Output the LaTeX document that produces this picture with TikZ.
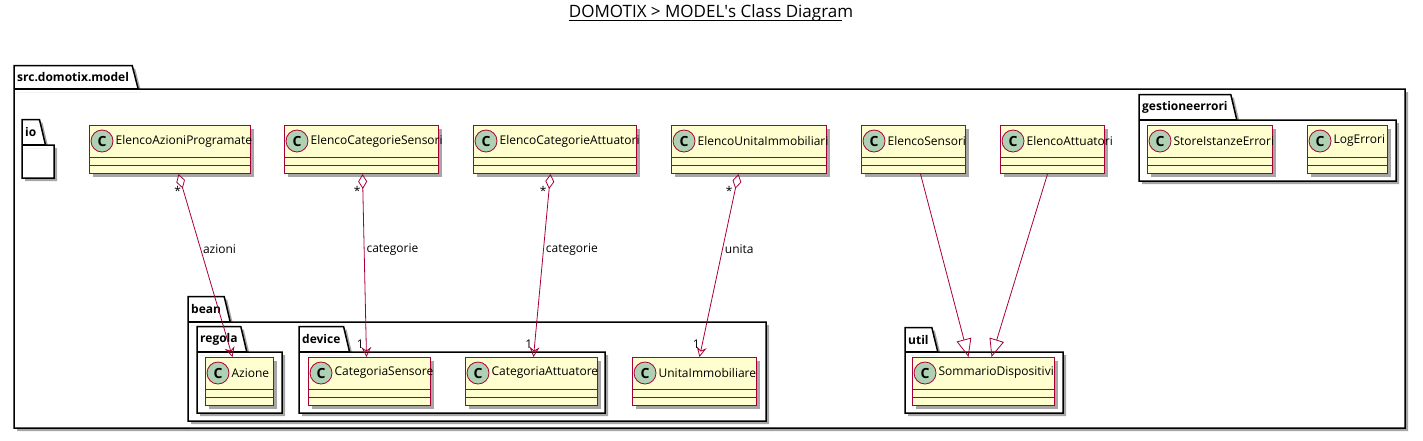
\documentclass[tikz,border=0pt]{standalone}
\usepackage{fontspec}
\setmainfont{Open Sans}
\usepackage{tikz}
\usetikzlibrary{arrows.meta}
\usetikzlibrary{shadows}
\usetikzlibrary{backgrounds}
\usetikzlibrary{positioning}

\definecolor{umlred}{HTML}{A80036}
\definecolor{umlyellow}{HTML}{FEFECE}
\definecolor{umlgreen}{HTML}{ADD1B2}

% #1 name, #2 left, #3 top, #4 right, #5 label
\newcommand{\umlclass}[5]{%
    \node[classbox, minimum width={(#4-#2)*1pt}, anchor=north west] (#1) at (#2,#3) {};
    \draw[classline] ([yshift=-32pt]#1.north west) -- ([yshift=-32pt]#1.north east);
    \draw[classline] ([yshift=-40pt]#1.north west) -- ([yshift=-40pt]#1.north east);
    \node[classicon] (#1-c) at ([xshift=13pt,yshift=-16pt]#1.north west) {C};
    \node[classname, right=2pt of #1-c] (#1-t) {#5};
}
% #1 name, #2 label, #3 left, #4 tab top, #5 body top, #6 right, #7 bottom
\newcommand{\umlpkg}[7]{%
    \node[pkglabel, minimum height={(#5-#4)*1pt}, anchor=south west] (#1) at (#3,#5) {#2};
    \begin{scope}[on background layer]
        \draw[pkgbox] (#3,#7) -- (#1.north west) -- (#1.north east) -- ([xshift=6pt]#1.south east) -- (#6,#5) -- (#6,#7) -- cycle;
        \draw[pkgbox] (#1.south west) -- ([xshift=6pt]#1.south east);
    \end{scope}
}

\begin{document}
\begin{tikzpicture}[x=1pt, y=-1pt,
    classbox/.style={draw=umlred, fill=umlyellow, line width=1pt, minimum height=48pt, inner sep=0pt,
        drop shadow={shadow xshift=3pt, shadow yshift=-3pt, opacity=0.35, fill=black}},
    classline/.style={draw=umlred, line width=1pt},
    classicon/.style={circle, draw=umlred, fill=umlgreen, line width=0.8pt, minimum size=22pt, inner sep=0pt,
        font=\fontsize{14}{14}\selectfont\bfseries},
    classname/.style={inner sep=0pt, font=\fontsize{12}{14}\selectfont},
    pkglabel/.style={inner xsep=3pt, inner ysep=0pt, font=\fontsize{12}{14}\selectfont\bfseries},
    pkgbox/.style={draw=black, fill=white, line width=1.5pt,
        drop shadow={shadow xshift=3pt, shadow yshift=-3pt, opacity=0.35, fill=black}},
    edgelabel/.style={inner sep=2pt, font=\fontsize{12}{14}\selectfont},
    aggr/.style={draw=umlred, line width=0.8pt,
        {Diamond[open, length=15pt, width=9pt]}-{Stealth[open, length=10pt, width=10pt, inset=3.5pt]}},
    extends/.style={draw=umlred, line width=0.8pt, -{Triangle[open, length=18pt, width=15pt]}},
    title/.style={inner sep=0pt, font=\fontsize{17}{20}\selectfont}]

    \useasboundingbox (0,0) rectangle (1423,440);

    \node[title] (title) at (711,13) {DOMOTIX > MODEL\textquotesingle s Class Diagram};
    \draw[line width=0.8pt] ([yshift=-2.5pt]title.base west) -- ([xshift=-11pt,yshift=-2.5pt]title.base east);

    \umlpkg{model}{src.domotix.model}{14}{66}{89}{1405}{428}
    \umlpkg{io}{io}{22}{120}{145}{54}{178}
    \umlpkg{errori}{gestioneerrori}{1139}{95}{120}{1396}{181}
    \umlpkg{bean}{bean}{188}{297}{322}{766}{421}
    \umlpkg{regola}{regola}{197}{327}{352}{282}{413}
    \umlpkg{device}{device}{299}{327}{352}{605}{413}
    \umlpkg{util}{util}{905}{328}{352}{1063}{413}

    \umlclass{eap}{89}{125}{250}{ElencoAzioniProgramate}
    \umlclass{ecs}{284}{125}{438}{ElencoCategorieSensori}
    \umlclass{eca}{473}{125}{636}{ElencoCategorieAttuatori}
    \umlclass{eui}{671}{125}{826}{ElencoUnitaImmobiliari}
    \umlclass{es}{861}{125}{965}{ElencoSensori}
    \umlclass{ea}{1000}{125}{1104}{ElencoAttuatori}
    \umlclass{sie}{1147}{125}{1272}{StoreIstanzeErrori}
    \umlclass{le}{1307}{125}{1387}{LogErrori}
    \umlclass{az}{205}{357}{273}{Azione}
    \umlclass{cs}{308}{357}{430}{CategoriaSensore}
    \umlclass{ca}{465}{357}{597}{CategoriaAttuatore}
    \umlclass{ui}{632}{357}{756}{UnitaImmobiliare}
    \umlclass{sd}{912}{357}{1054}{SommarioDispositivi}

    \draw[aggr] ([xshift=8.5pt]eap.south) -- node[edgelabel, pos=0.41, right]{azioni}
        node[edgelabel, pos=0.09, left]{*} ([xshift=-7pt]az.north);
    \draw[aggr] ([xshift=1pt]ecs.south) -- node[edgelabel, pos=0.41, right]{categorie}
        node[edgelabel, pos=0.09, left]{*} node[edgelabel, pos=0.93, left]{1} ([xshift=-3pt]cs.north);
    \draw[aggr] ([xshift=-4.5pt]eca.south) -- node[edgelabel, pos=0.41, right]{categorie}
        node[edgelabel, pos=0.09, left]{*} node[edgelabel, pos=0.93, left]{1} ([xshift=2pt]ca.north);
    \draw[aggr] ([xshift=-10.5pt]eui.south) -- node[edgelabel, pos=0.41, right]{unita}
        node[edgelabel, pos=0.09, left]{*} node[edgelabel, pos=0.93, left]{1} ([xshift=5pt]ui.north);
    \draw[extends] ([xshift=7pt]es.south) -- ([xshift=-15pt]sd.north);
    \draw[extends] ([xshift=-5pt]ea.south) -- ([xshift=8pt]sd.north);
\end{tikzpicture}
\end{document}
